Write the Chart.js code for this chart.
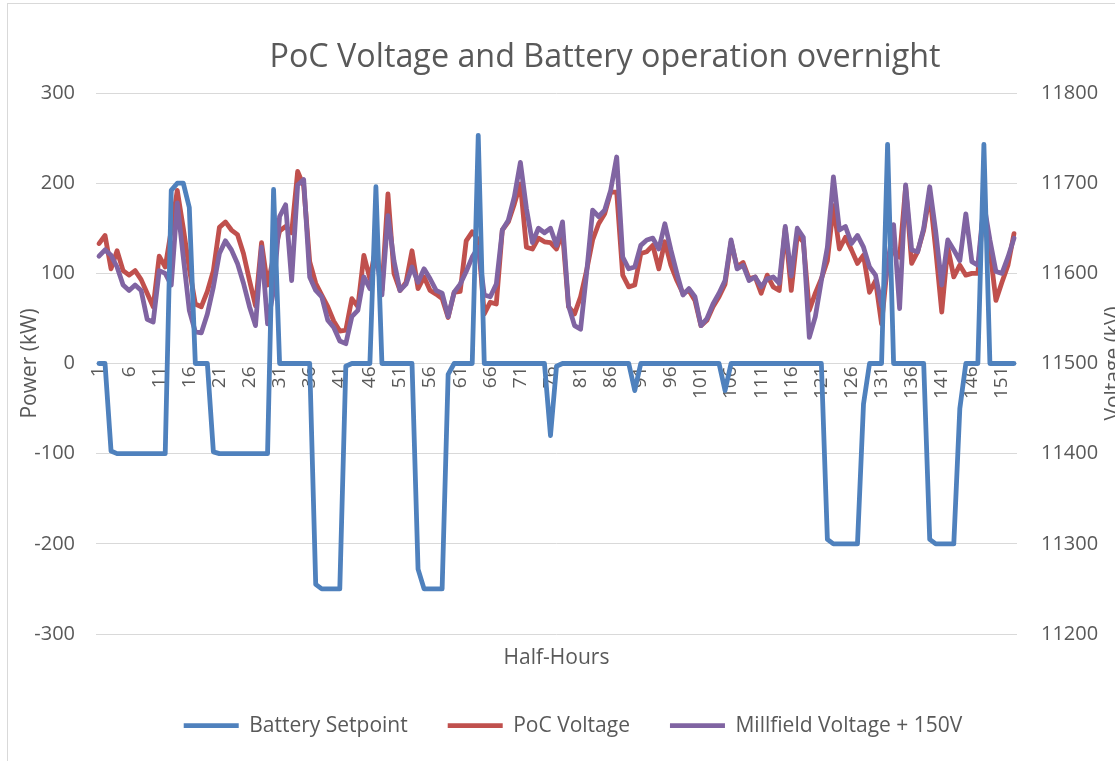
<!DOCTYPE html>
<html>
<head>
<meta charset="utf-8">
<title>PoC Voltage and Battery operation overnight</title>
<script src="https://cdn.jsdelivr.net/npm/chart.js"></script>
<style>
  html, body { margin: 0; padding: 0; background: #ffffff; overflow: hidden; }
  #wrap { position: relative; width: 1115px; height: 761px; overflow: hidden; }
  #chart { display: block; }
</style>
</head>
<body>
<div id="wrap">
  <canvas id="chart" width="1146" height="761"></canvas>
</div>
<script>
// --- data ---
const chartTitle = 'PoC Voltage and Battery operation overnight';
const xTitle = 'Half-Hours';
const leftTitle = 'Power (kW)';
const rightTitle = 'Voltage (kV)';

// half-hour index 1..153
const halfHours = Array.from({ length: 153 }, (_, i) => String(i + 1));

// Battery Setpoint (kW, left axis)
const batterySetpoint = [
  0, 0, -97, -100, -100, -100, -100, -100, -100, -100,
  -100, -100, 192, 200, 200, 173, 0, 0, 0, -98,
  -100, -100, -100, -100, -100, -100, -100, -100, -100, 193,
  0, 0, 0, 0, 0, 0, -245, -250, -250, -250,
  -250, -3, 0, 0, 0, 0, 196, 0, 0, 0,
  0, 0, 0, -228, -250, -250, -250, -250, -12, 0,
  0, 0, 0, 253, 0, 0, 0, 0, 0, 0,
  0, 0, 0, 0, 0, -80, -3, 0, 0, 0,
  0, 0, 0, 0, 0, 0, 0, 0, 0, -30,
  0, 0, 0, 0, 0, 0, 0, 0, 0, 0,
  0, 0, 0, 0, -30, 0, 0, 0, 0, 0,
  0, 0, 0, 0, 0, 0, 0, 0, 0, 0,
  0, -195, -200, -200, -200, -200, -200, -45, 0, 0,
  0, 243, 0, 0, 0, 0, 0, 0, -195, -200,
  -200, -200, -200, -50, 0, 0, 0, 243, 0, 0,
  0, 0, 0
];

// PoC Voltage (kV, right axis)
const pocVoltage = [
  11633, 11642, 11605, 11625, 11603, 11598, 11603, 11593, 11578, 11563,
  11619, 11607, 11648, 11692, 11650, 11605, 11566, 11563, 11580, 11603,
  11651, 11657, 11648, 11643, 11622, 11592, 11564, 11634, 11587, 11618,
  11647, 11652, 11645, 11713, 11697, 11613, 11589, 11576, 11563, 11547,
  11536, 11537, 11572, 11563, 11620, 11594, 11629, 11581, 11688, 11600,
  11581, 11590, 11625, 11583, 11596, 11581, 11577, 11572, 11551, 11579,
  11580, 11636, 11646, 11637, 11555, 11568, 11566, 11648, 11657, 11677,
  11699, 11629, 11627, 11639, 11635, 11634, 11627, 11645, 11563, 11555,
  11574, 11603, 11637, 11655, 11666, 11690, 11690, 11598, 11585, 11587,
  11622, 11624, 11631, 11605, 11635, 11609, 11592, 11578, 11581, 11570,
  11542, 11548, 11563, 11574, 11588, 11635, 11607, 11612, 11594, 11596,
  11578, 11598, 11585, 11581, 11650, 11581, 11642, 11635, 11559, 11578,
  11594, 11614, 11675, 11627, 11640, 11626, 11611, 11620, 11579, 11592,
  11544, 11611, 11626, 11618, 11696, 11611, 11624, 11648, 11688, 11626,
  11557, 11629, 11596, 11609, 11598, 11600, 11600, 11676, 11626, 11570,
  11590, 11609, 11644
];

// Millfield Voltage + 150V (kV, right axis)
const millfieldVoltage = [
  11619, 11626, 11620, 11607, 11587, 11581, 11587, 11581, 11549, 11546,
  11603, 11600, 11587, 11678, 11618, 11559, 11535, 11534, 11555, 11585,
  11622, 11636, 11626, 11611, 11589, 11563, 11542, 11629, 11544, 11581,
  11663, 11676, 11592, 11698, 11704, 11596, 11581, 11574, 11548, 11540,
  11525, 11522, 11552, 11559, 11596, 11583, 11624, 11576, 11664, 11614,
  11581, 11588, 11607, 11590, 11605, 11594, 11581, 11578, 11552, 11579,
  11588, 11602, 11618, 11629, 11576, 11574, 11588, 11648, 11659, 11685,
  11723, 11672, 11634, 11650, 11645, 11650, 11631, 11657, 11564, 11542,
  11538, 11600, 11670, 11663, 11670, 11692, 11729, 11618, 11605, 11607,
  11631, 11637, 11639, 11627, 11655, 11626, 11600, 11576, 11583, 11574,
  11542, 11550, 11566, 11578, 11592, 11637, 11605, 11609, 11592, 11596,
  11585, 11594, 11596, 11589, 11652, 11597, 11650, 11640, 11529, 11552,
  11592, 11629, 11707, 11648, 11652, 11633, 11642, 11629, 11607, 11598,
  11564, 11610, 11654, 11561, 11698, 11626, 11624, 11650, 11696, 11646,
  11587, 11637, 11626, 11614, 11666, 11613, 11609, 11677, 11637, 11602,
  11600, 11618, 11639
];

// axis ranges
const powerMin = -300, powerMax = 300, powerStep = 100;
const voltMin = 11200, voltMax = 11800, voltStep = 100;

const textColor = '#595959';
const gridColor = '#d9d9d9';
const fontFamily = '"Open Sans", "Liberation Sans", sans-serif';

// white background + the thin frame round the chart
const framePlugin = {
  id: 'frame',
  beforeDraw(chart) {
    const ctx = chart.ctx;
    ctx.save();
    ctx.fillStyle = '#ffffff';
    ctx.fillRect(0, 0, chart.width, chart.height);
    ctx.strokeStyle = gridColor;
    ctx.lineWidth = 1;
    ctx.strokeRect(7.5, 3.5, chart.width + 50, chart.height + 50);
    ctx.restore();
  },
  afterDraw(chart) {
    const ctx = chart.ctx;
    const area = chart.chartArea;
    ctx.save();
    ctx.fillStyle = textColor;
    ctx.textAlign = 'center';
    ctx.textBaseline = 'middle';
    // chart title
    ctx.font = '32.3px ' + fontFamily;
    ctx.fillText(chartTitle, 605, 58);
    // secondary axis title, rotated like the primary one
    ctx.font = '21px ' + fontFamily;
    ctx.translate(1114, (area.top + area.bottom) / 2);
    ctx.rotate(-Math.PI / 2);
    ctx.fillText(rightTitle, 0, 0);
    ctx.restore();
  }
};

const ctx = document.getElementById('chart');

new Chart(ctx, {
  type: 'line',
  data: {
    labels: halfHours,
    datasets: [
      {
        label: 'Battery Setpoint',
        data: batterySetpoint,
        yAxisID: 'y',
        borderColor: '#4f81bd',
        backgroundColor: '#4f81bd',
        borderWidth: 4.8,
        order: 0
      },
      {
        label: 'PoC Voltage',
        data: pocVoltage,
        yAxisID: 'y1',
        borderColor: '#c0504d',
        backgroundColor: '#c0504d',
        borderWidth: 4.8,
        order: 2
      },
      {
        label: 'Millfield Voltage + 150V',
        data: millfieldVoltage,
        yAxisID: 'y1',
        borderColor: '#8064a2',
        backgroundColor: '#8064a2',
        borderWidth: 4.8,
        order: 1
      }
    ]
  },
  options: {
    responsive: false,
    animation: false,
    layout: { padding: { top: 93, bottom: 14.8, left: 0, right: 0 } },
    elements: {
      point: { radius: 0, hoverRadius: 0 },
      line: { tension: 0, borderJoinStyle: 'round', borderCapStyle: 'round' }
    },
    plugins: {
      title: { display: false },
      tooltip: { enabled: false },
      legend: {
        position: 'bottom',
        labels: {
          usePointStyle: true,
          pointStyle: 'line',
          pointStyleWidth: 55,
          padding: 40,
          color: textColor,
          font: { family: fontFamily, size: 21 },
          sort: (a, b) => a.datasetIndex - b.datasetIndex
        }
      }
    },
    scales: {
      // bottom axis only carries the title
      x: {
        type: 'category',
        position: 'bottom',
        offset: true,
        grid: { display: false, drawTicks: false },
        border: { display: false },
        ticks: { display: false },
        title: {
          display: true,
          text: xTitle,
          color: textColor,
          font: { family: fontFamily, size: 21 },
          padding: { top: 11, bottom: 5 }
        }
      },
      // category labels hang from the zero line
      x2: {
        type: 'category',
        axis: 'x',
        position: { y: 0 },
        offset: true,
        grid: { display: false, drawTicks: false },
        border: { display: false },
        ticks: {
          autoSkip: false,
          minRotation: 90,
          maxRotation: 90,
          padding: 3,
          color: textColor,
          font: { family: fontFamily, size: 19 },
          callback: function (val, index) {
            return index % 5 === 0 ? this.getLabelForValue(val) : null;
          }
        }
      },
      y: {
        position: 'left',
        min: powerMin,
        max: powerMax,
        grid: { color: gridColor, lineWidth: 1, drawTicks: false },
        border: { display: false },
        ticks: {
          stepSize: powerStep,
          padding: 21,
          color: textColor,
          font: { family: fontFamily, size: 20 }
        },
        title: {
          display: true,
          text: leftTitle,
          color: textColor,
          font: { family: fontFamily, size: 21 },
          padding: { top: 17, bottom: 0 }
        },
        afterFit: (scale) => { scale.width = 96; }
      },
      y1: {
        position: 'right',
        min: voltMin,
        max: voltMax,
        grid: { display: false, drawTicks: false },
        border: { display: false },
        ticks: {
          stepSize: voltStep,
          padding: 24,
          color: textColor,
          font: { family: fontFamily, size: 20 },
          callback: (val) => String(val)
        },
        afterFit: (scale) => { scale.width = 129; }
      }
    }
  },
  plugins: [framePlugin]
});
</script>
</body>
</html>
